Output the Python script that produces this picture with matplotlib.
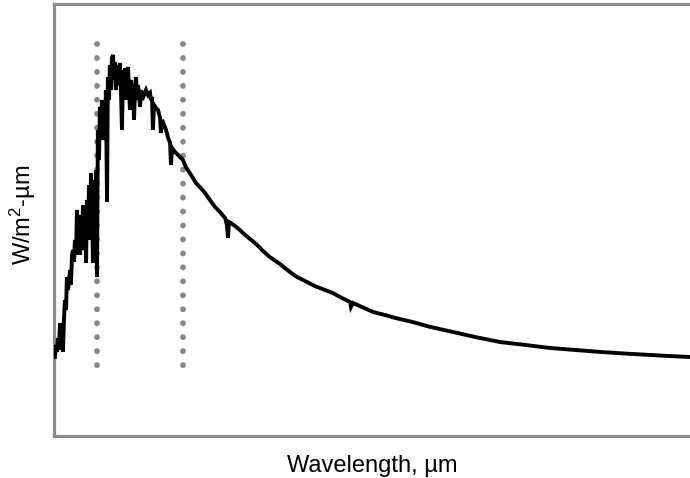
import matplotlib
matplotlib.use("Agg")
import matplotlib.pyplot as plt
import numpy as np

plt.rcParams['font.family'] = ['Liberation Sans', 'DejaVu Sans']
plt.rcParams['mathtext.default'] = 'regular'

# spectrum (wavelength in um, irradiance in W/m2-um)
wavelength = [
    0.253, 0.257, 0.260, 0.264, 0.267, 0.271, 0.274, 0.278, 0.281, 0.285,
    0.288, 0.292, 0.295, 0.299, 0.306, 0.309, 0.313, 0.316, 0.320, 0.323,
    0.327, 0.330, 0.334, 0.337, 0.341, 0.344, 0.348, 0.351, 0.355, 0.358,
    0.362, 0.365, 0.369, 0.372, 0.376, 0.379, 0.383, 0.386, 0.390, 0.393,
    0.397, 0.400, 0.403, 0.407, 0.410, 0.414, 0.417, 0.421, 0.424, 0.428,
    0.431, 0.435, 0.438, 0.442, 0.445, 0.449, 0.452, 0.456, 0.459, 0.463,
    0.466, 0.470, 0.473, 0.477, 0.480, 0.484, 0.487, 0.491, 0.494, 0.498,
    0.501, 0.505, 0.508, 0.512, 0.515, 0.519, 0.522, 0.526, 0.529, 0.533,
    0.536, 0.540, 0.543, 0.547, 0.550, 0.554, 0.557, 0.561, 0.564, 0.571,
    0.578, 0.585, 0.588, 0.592, 0.595, 0.599, 0.606, 0.613, 0.620, 0.623,
    0.627, 0.634, 0.641, 0.648, 0.655, 0.658, 0.662, 0.672, 0.683, 0.700,
    0.710, 0.724, 0.745, 0.759, 0.777, 0.794, 0.812, 0.829, 0.847, 0.853,
    0.857, 0.860, 0.867, 0.881, 0.899, 0.909, 0.934, 0.955, 0.979, 1.003,
    1.038, 1.073, 1.098, 1.126, 1.160, 1.195, 1.223, 1.248, 1.283, 1.286,
    1.293, 1.324, 1.363, 1.405, 1.440, 1.502, 1.562, 1.642, 1.719, 1.806,
    1.893, 1.980, 2.067, 2.155, 2.242, 2.329, 2.399, 2.469, 2.500,
]
irradiance = [
    0.439, 0.506, 0.467, 0.544, 0.478, 0.628, 0.561, 0.617, 0.467, 0.656,
    0.756, 0.700, 0.883, 0.811, 0.922, 0.839, 1.006, 1.033, 0.967, 1.089,
    1.006, 1.256, 1.144, 1.228, 1.006, 1.172, 1.033, 1.283, 1.089, 1.200,
    0.961, 1.311, 1.144, 1.394, 1.089, 1.461, 1.200, 0.961, 1.422, 1.144,
    1.478, 0.883, 1.700, 1.533, 1.828, 1.644, 1.867, 1.672, 1.811, 1.644,
    1.922, 1.300, 1.994, 1.867, 2.061, 1.922, 2.100, 2.117, 1.978, 2.078,
    1.922, 2.061, 1.950, 2.033, 2.072, 1.894, 1.700, 2.033, 1.978, 2.044,
    1.867, 2.006, 2.050, 1.922, 1.811, 1.978, 1.894, 1.950, 1.756, 1.922,
    1.994, 1.867, 1.950, 1.894, 1.828, 1.922, 1.867, 1.911, 1.894, 1.922,
    1.894, 1.906, 1.867, 1.883, 1.700, 1.839, 1.822, 1.811, 1.767, 1.683,
    1.756, 1.728, 1.700, 1.656, 1.628, 1.506, 1.600, 1.578, 1.561, 1.533,
    1.494, 1.461, 1.406, 1.383, 1.350, 1.311, 1.272, 1.244, 1.211, 1.172,
    1.100, 1.189, 1.183, 1.167, 1.144, 1.128, 1.094, 1.067, 1.028, 0.994,
    0.956, 0.911, 0.883, 0.861, 0.833, 0.811, 0.794, 0.772, 0.744, 0.717,
    0.739, 0.717, 0.689, 0.672, 0.656, 0.633, 0.606, 0.578, 0.550, 0.522,
    0.506, 0.489, 0.478, 0.467, 0.458, 0.450, 0.444, 0.439, 0.436,
]

# visible band edges
band_edges = [0.4, 0.7]
band_low, band_high = 0.372, 2.178

fig = plt.figure(figsize=(6.9, 4.78), dpi=100)
ax = fig.add_axes([54 / 690, 42 / 478, 645 / 690, 432 / 478])

ax.plot(wavelength, irradiance, color='black', linewidth=2.8,
        solid_joinstyle='miter', zorder=3)
# dotted markers drawn top-down so the first dot sits at the top end
for edge in band_edges:
    ax.plot([edge, edge], [band_high, band_low], color='#888888',
            linewidth=4.2, linestyle=(0, (0.01, 2.383)),
            dash_capstyle='round', zorder=2)

ax.set_xlim(0.25, 2.5)
ax.set_ylim(0, 2.4)
ax.set_xticks([])
ax.set_yticks([])
for name, sp in ax.spines.items():
    sp.set_color('#8a8a8a')
    sp.set_linewidth(2.3)
ax.spines['right'].set_visible(False)

fig.text(372 / 690, 1 - 466 / 478, 'Wavelength, µm', ha='center', va='center',
         fontsize=17)
fig.text(23 / 690, 1 - 215 / 478, 'W/m$^2$-µm', ha='center', va='center',
         rotation=90, fontsize=17)

fig.savefig('out.png', dpi=100)
